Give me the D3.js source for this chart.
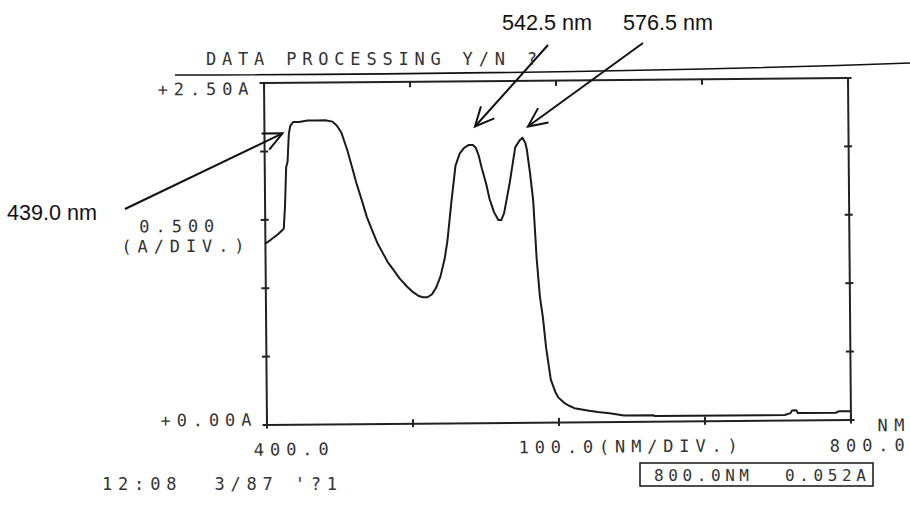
<!DOCTYPE html>
<html>
<head>
<meta charset="utf-8">
<script src="https://cdn.jsdelivr.net/npm/d3@7"></script>
<style>
  body { margin: 0; background: #fff; }
  .printer { font-family: "DejaVu Sans Mono", monospace; font-size: 17px; fill: #333; }
  .small { font-size: 16px; }
  .note { font-family: "Liberation Sans", Arial, sans-serif; font-size: 22px; fill: #111; }
  .axis path, .axis line { stroke: #222; stroke-width: 2; }
</style>
</head>
<body>
<div id="chart"></div>
<script>
// spectrum (nm, absorbance)
var wavelengths = [400, 404, 409, 413, 414, 415, 416, 417, 418, 420, 424, 430, 436, 442, 447,
    450, 453, 457, 460, 463, 467, 470, 474, 477, 481, 484, 488, 492, 497, 501, 505, 508, 511,
    514, 517, 520, 523, 525, 528, 531, 534, 537, 540, 543, 545, 547, 549, 552, 554, 557, 560,
    562, 564, 566, 568, 570, 572, 575, 577, 579, 580, 582, 584, 586, 588, 590, 592, 595, 598,
    600, 604, 607, 611, 616, 621, 627, 635, 645, 665, 666, 755, 759, 760, 763, 764, 790, 792, 800];
var absorbance = [1.32, 1.35, 1.39, 1.43, 1.60, 1.88, 1.92, 2.12, 2.18, 2.21, 2.21, 2.22, 2.22, 2.22, 2.21,
    2.18, 2.13, 2.00, 1.88, 1.76, 1.62, 1.51, 1.40, 1.32, 1.24, 1.18, 1.12, 1.06, 1.00, 0.96, 0.93, 0.92, 0.92,
    0.94, 0.99, 1.07, 1.20, 1.33, 1.62, 1.88, 1.97, 2.01, 2.03, 2.03, 2.01, 1.95, 1.86, 1.74, 1.64, 1.54, 1.48,
    1.48, 1.53, 1.64, 1.75, 1.88, 2.01, 2.06, 2.08, 2.04, 1.99, 1.82, 1.62, 1.20, 0.92, 0.76, 0.54, 0.31, 0.22,
    0.18, 0.14, 0.12, 0.10, 0.09, 0.08, 0.07, 0.06, 0.044, 0.044, 0.037, 0.037, 0.05, 0.07, 0.07, 0.05, 0.05, 0.06, 0.06];

var xTicks = [400, 500, 600, 700, 800];
var yTicks = [0, 0.5, 1.0, 1.5, 2.0, 2.5];

// peak annotations
var peakLabels = ["439.0 nm", "542.5 nm", "576.5 nm"];
var peakTipNm = [412, 543.8, 580.1];
var peakTipA = [2.11, 2.16, 2.16];

var width = 910, height = 507;
var plot = {left: 265, right: 849, top: 80, bottom: 422};
var PITCH = 16, GLYPH = 11;

var x = d3.scaleLinear().domain([400, 800]).range([plot.left, plot.right]);
var y = d3.scaleLinear().domain([0, 2.5]).range([plot.bottom, plot.top]);

var svg = d3.select("#chart").append("svg")
    .attr("width", width)
    .attr("height", height);

// printer style text, fixed character pitch
function printText(g, str, px, py, anchor, pitch) {
    pitch = pitch || PITCH;
    return g.append("text")
        .attr("class", "printer")
        .attr("x", px)
        .attr("y", py)
        .attr("text-anchor", anchor || "start")
        .attr("textLength", (str.length - 1) * pitch + GLYPH)
        .attr("lengthAdjust", "spacing")
        .style("white-space", "pre")
        .text(str);
}

// header and rule across the page
printText(svg, "DATA PROCESSING Y/N ?", 206, 65);
svg.append("path")
    .attr("d", "M175,75 Q600,74 910,63")
    .attr("fill", "none")
    .attr("stroke", "#111")
    .attr("stroke-width", 1.6);

// the scan is a little tilted
var g = svg.append("g")
    .attr("transform", "rotate(-0.5," + (plot.left + plot.right) / 2 + "," + (plot.top + plot.bottom) / 2 + ")");

g.append("g")
    .attr("class", "axis")
    .attr("transform", "translate(0," + plot.bottom + ")")
    .call(d3.axisBottom(x).tickValues(xTicks).tickSizeInner(4).tickSizeOuter(0).tickFormat(""))
    .selectAll(".tick line").attr("y1", -4);

g.append("g")
    .attr("class", "axis")
    .attr("transform", "translate(0," + plot.top + ")")
    .call(d3.axisBottom(x).tickValues(xTicks).tickSizeInner(6).tickSizeOuter(0).tickFormat(""));

g.append("g")
    .attr("class", "axis")
    .attr("transform", "translate(" + plot.left + ",0)")
    .call(d3.axisLeft(y).tickValues(yTicks).tickSizeInner(4).tickSizeOuter(0).tickFormat(""))
    .selectAll(".tick line").attr("x1", 4);

g.append("g")
    .attr("class", "axis")
    .attr("transform", "translate(" + plot.right + ",0)")
    .call(d3.axisRight(y).tickValues(yTicks).tickSizeInner(4).tickSizeOuter(0).tickFormat(""))
    .selectAll(".tick line").attr("x1", -4);

// spectrum
var points = wavelengths.map(function (d, i) { return {nm: d, a: absorbance[i]}; });
var valueline = d3.line()
    .x(function (d) { return x(d.nm); })
    .y(function (d) { return y(d.a); });

g.append("path")
    .datum(points)
    .attr("d", valueline)
    .attr("fill", "none")
    .attr("stroke", "#1a1a1a")
    .attr("stroke-width", 2)
    .attr("stroke-linejoin", "round");

// axis captions in printer text
printText(g, "+2.50A", x(400) - 15, y(2.5) + 12, "end");
printText(g, "+0.00A", x(400) - 15, y(0) + 1, "end");
printText(g, "0.500", x(400) - 88, y(1.5) + 12, "middle");
printText(g, "(A/DIV.)", x(400) - 82, y(1.5) + 32, "middle");
printText(g, "400.0", x(400) - 13, y(0) + 31);
printText(g, "100.0(NM/DIV.)", x(600) - 40, y(0) + 31);
printText(g, "NM", x(800) + 54, y(0) + 12, "end");
printText(g, "800.0", x(800) + 54, y(0) + 32, "end");

// cursor readout and time stamp
svg.append("rect")
    .attr("x", 640).attr("y", 463)
    .attr("width", 233).attr("height", 23)
    .attr("fill", "none")
    .attr("stroke", "#222")
    .attr("stroke-width", 1.6);
printText(svg, "800.0NM", 654, 481, "start", 14).classed("small", true);
printText(svg, "0.052A", 866, 481, "end", 14).classed("small", true);
printText(svg, "12:08  3/87 '?1", 102, 490);

// peak arrows
var tails = [[125, 209], [548, 45], [643, 43]];
var labelPos = [[7, 220], [502, 30], [623, 30]];

peakLabels.forEach(function (label, i) {
    var tx = x(peakTipNm[i]), ty = y(peakTipA[i]);
    var t = tails[i];
    var ang = Math.atan2(ty - t[1], tx - t[0]);
    var L = 21, spread = 0.44;
    svg.append("line")
        .attr("x1", t[0]).attr("y1", t[1])
        .attr("x2", tx).attr("y2", ty)
        .attr("stroke", "#111").attr("stroke-width", 2);
    svg.append("path")
        .attr("d", "M" + (tx - L * Math.cos(ang - spread)) + "," + (ty - L * Math.sin(ang - spread)) +
            "L" + tx + "," + ty +
            "L" + (tx - L * Math.cos(ang + spread)) + "," + (ty - L * Math.sin(ang + spread)))
        .attr("fill", "none")
        .attr("stroke", "#111").attr("stroke-width", 2);
    svg.append("text")
        .attr("class", "note")
        .attr("x", labelPos[i][0])
        .attr("y", labelPos[i][1])
        .attr("textLength", 90)
        .attr("lengthAdjust", "spacingAndGlyphs")
        .text(label);
});
</script>
</body>
</html>
